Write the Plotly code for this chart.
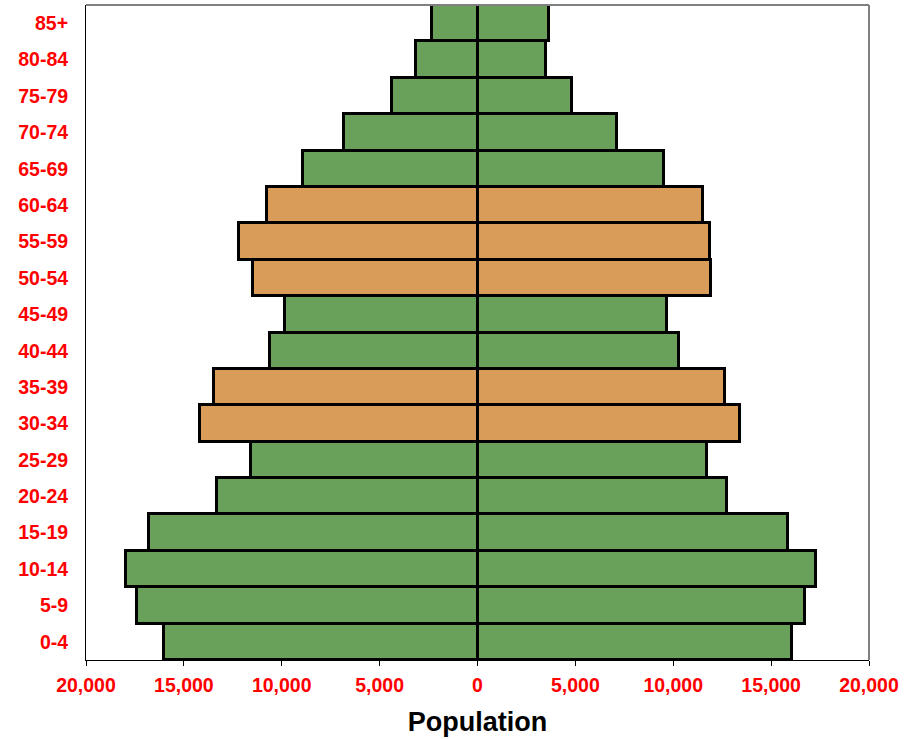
import plotly.graph_objects as go

age_groups = ["0-4", "5-9", "10-14", "15-19", "20-24", "25-29", "30-34", "35-39", "40-44",
              "45-49", "50-54", "55-59", "60-64", "65-69", "70-74", "75-79", "80-84", "85+"]
male = [16020, 17400, 17960, 16790, 13320, 11580, 14180, 13470, 10610,
        9850, 11480, 12190, 10770, 8930, 6840, 4390, 3160, 2350]
female = [16070, 16730, 17300, 15870, 12760, 11730, 13420, 12650, 10310,
          9690, 11940, 11890, 11530, 9540, 7140, 4850, 3520, 3670]
highlight = ["30-34", "35-39", "50-54", "55-59", "60-64"]
tick_vals = [-20000, -15000, -10000, -5000, 0, 5000, 10000, 15000, 20000]
tick_text = ["20,000", "15,000", "10,000", "5,000", "0", "5,000", "10,000", "15,000", "20,000"]

green = "#6aa15a"
orange = "#d99c59"
colors = [orange if a in highlight else green for a in age_groups]

fig = go.Figure()
fig.add_trace(go.Bar(y=age_groups, x=[-v for v in male], orientation="h",
                     marker=dict(color=colors, line=dict(color="black", width=3)),
                     showlegend=False))
fig.add_trace(go.Bar(y=age_groups, x=female, orientation="h",
                     marker=dict(color=colors, line=dict(color="black", width=3)),
                     showlegend=False))

fig.update_layout(
    barmode="relative", bargap=0,
    width=912, height=739,
    margin=dict(l=86, r=43, t=5, b=79),
    plot_bgcolor="white", paper_bgcolor="white",
    font=dict(family="Liberation Sans, Arial, sans-serif"),
)
fig.update_xaxes(
    range=[-20000, 20000], tickvals=tick_vals, ticktext=tick_text,
    showgrid=False, zeroline=False, showline=True, linecolor="black", linewidth=1,
    ticks="outside", ticklen=5, tickcolor="black",
    tickfont=dict(color="red", size=19.5, family="Liberation Sans, Arial, sans-serif", weight="bold"),
    ticklabelstandoff=3,
    title=dict(text="<b>Population</b>", font=dict(size=27, color="black"), standoff=16),
)
fig.update_yaxes(
    range=[-0.5, 17.5], showgrid=False, zeroline=False,
    showline=True, linecolor="black", linewidth=1, ticks="",
    tickfont=dict(color="red", size=19.5, family="Liberation Sans, Arial, sans-serif", weight="bold"),
    ticklabelstandoff=13,
)
# grey frame on top and right of the plot area
fig.add_shape(type="line", xref="paper", yref="paper", x0=0, x1=1, y0=1, y1=1,
              line=dict(color="#808080", width=2))
fig.add_shape(type="line", xref="paper", yref="paper", x0=1, x1=1, y0=0, y1=1,
              line=dict(color="#808080", width=2))

fig.write_html("out.html", config={"displayModeBar": False},
               post_script="document.body.style.margin='0';")
